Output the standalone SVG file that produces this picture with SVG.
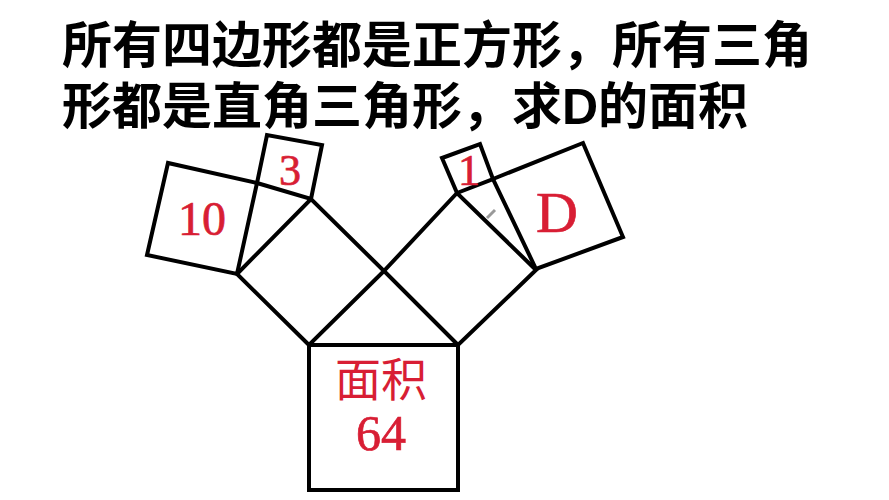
<svg xmlns="http://www.w3.org/2000/svg" width="889" height="500" viewBox="0 0 889 500">
<style>
.sq{fill:none;stroke:#000;stroke-width:4;stroke-linejoin:miter}
.t{font-family:"Liberation Sans","Noto Sans CJK SC",sans-serif;font-size:50px;font-weight:bold;fill:#000}
.r{font-family:"Liberation Serif","Noto Serif",serif;fill:#d81e34;stroke:#d81e34;stroke-width:0.7;text-anchor:middle}
.rc{font-family:"Liberation Serif","Noto Sans CJK SC",serif;fill:#d81e34;text-anchor:middle}
</style>
<rect width="889" height="500" fill="#fff"/>
<g id="title">
<text class="t" x="62" y="63">所有四边形都是正方形，所有三角</text>
<text class="t" x="62" y="124">形都是直角三角形，求D的面积</text>
</g>
<g id="square-64">
<rect class="sq" x="309" y="345" width="149" height="145"/>
<text class="rc" x="381" y="396" font-size="46">面积</text>
<text class="r" x="381" y="450" font-size="50">64</text>
</g>
<g id="square-left">
<polygon class="sq" points="309,345 237,274 311,199 384,271"/>
</g>
<g id="square-right">
<polygon class="sq" points="458,345 384,271 457,193 536,270"/>
</g>
<g id="square-10">
<polygon class="sq" points="237,274 257,183 168,163 147,255"/>
<text class="r" x="202" y="235" font-size="48">10</text>
</g>
<g id="square-3">
<polygon class="sq" points="257,183 311,199 322,145 267,135"/>
<text class="r" x="290" y="185" font-size="44">3</text>
</g>
<g id="square-1">
<polygon class="sq" points="457,193 493,179 480,144 442,158"/>
<text class="r" x="469" y="185" font-size="44">1</text>
</g>
<g id="square-D">
<polygon class="sq" points="493,179 583,143 623,237 536,269"/>
<text class="r" x="557" y="232" font-size="58">D</text>
</g>
<g id="pen-mark">
<path d="M487,218 L495,210" stroke="#999" stroke-width="3" fill="none"/>
</g>
</svg>
